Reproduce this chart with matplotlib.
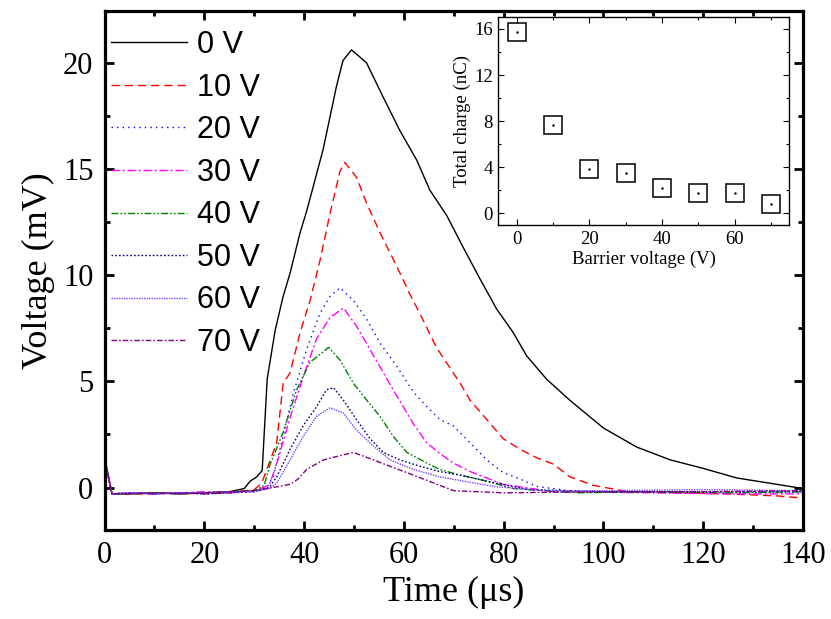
"""
Transient voltage signals for different barrier voltages, with inset of total charge.
"""

import matplotlib.pyplot as plt

SERIF = ["Liberation Serif", "DejaVu Serif"]
SANS = ["Liberation Sans", "DejaVu Sans"]

# Waveforms: time (us) and voltage (mV)
t_0v = [0, 0.3, 1.5, 5, 10, 15, 20, 25, 28, 29.2, 30.5, 31.6, 32.6, 34.2, 35.8, 37.2, 39.2,
        40.5, 43.8, 46.5, 47.8, 49.5, 52.5, 55.8, 59.2, 62.6, 65.2, 68.6, 71.9, 75.3, 78.6,
        81.9, 84.6, 88.6, 93.3, 100, 106.7, 113.4, 120, 126.7, 133.4, 140]
v_0v = [0.3, 1.1, -0.3, -0.3, -0.25, -0.3, -0.25, -0.2, -0.05, 0.3, 0.5, 0.8, 5.1, 7.4, 9.0, 10.1, 12.0,
        13.0, 15.9, 18.9, 20.1, 20.6, 20.0, 18.4, 16.8, 15.4, 14.0, 12.8, 11.3, 9.8, 8.4,
        7.3, 6.2, 5.1, 4.1, 2.8, 1.9, 1.3, 0.9, 0.45, 0.2, -0.05]

t_10v = [0, 0.3, 1.5, 5, 10, 15, 20, 25, 30, 31.5, 34.5, 35.8, 37.2, 39.2, 41.2, 43.2, 45.2,
         47.2, 48.2, 50.5, 52.5, 55.2, 58.6, 61.2, 63.6, 66.5, 71.3, 73.3, 76.6, 79.9, 83.3,
         86.6, 90, 93.3, 98, 105, 115, 125, 135, 140]
v_10v = [0.3, 1.0, -0.3, -0.3, -0.3, -0.25, -0.3, -0.25, -0.1, 0.2, 2.1, 4.9, 5.4, 7.3, 8.8, 10.7, 12.9,
         14.9, 15.3, 14.6, 13.4, 12.0, 10.4, 9.1, 8.0, 6.6, 4.9, 4.1, 3.2, 2.3, 1.8,
         1.4, 1.1, 0.5, 0.1, -0.2, -0.25, -0.3, -0.4, -0.5]

t_20v = [0, 0.3, 1.5, 5, 10, 15, 20, 25, 30, 32.5, 33.8, 35.8, 37.8, 40.5, 43.2, 45.2, 47.2,
         49.9, 52.6, 55.2, 58.6, 61.9, 64.2, 67.2, 69.9, 73.3, 76.6, 79.9, 83.3, 86.6, 95,
         110, 125, 140]
v_20v = [0.3, 1.0, -0.3, -0.25, -0.3, -0.25, -0.3, -0.25, -0.15, 0.0, 0.5, 2.4, 4.4, 6.5, 8.2, 9.0, 9.4,
         8.8, 7.9, 6.8, 5.7, 4.5, 3.9, 3.2, 2.9, 2.1, 1.3, 0.7, 0.4, 0.05, -0.2,
         -0.2, -0.2, -0.2]

t_30v = [0, 0.3, 1.5, 5, 10, 15, 20, 25, 30, 33, 34.5, 37.2, 39.8, 42.5, 45.2, 47.9, 50.5,
         53.2, 55.9, 58.6, 61.9, 64.6, 67.2, 69.9, 73.3, 76.6, 79.9, 90, 110, 125, 140]
v_30v = [0.3, 1.0, -0.3, -0.25, -0.3, -0.25, -0.2, -0.25, -0.15, 0.1, 1.1, 3.3, 5.2, 7.0, 8.0, 8.45, 7.6,
         6.5, 5.4, 4.3, 3.0, 2.1, 1.6, 1.15, 0.75, 0.45, 0.15, -0.2, -0.25, -0.3, -0.3]

t_40v = [0, 0.3, 1.5, 5, 10, 15, 20, 25, 30, 32, 33.2, 35.8, 38.5, 41.2, 43.9, 44.9, 47.2,
         49.9, 52.6, 55.2, 57.9, 60.6, 64.6, 67.2, 71, 76.6, 82, 95, 110, 125, 140]
v_40v = [0.3, 1.0, -0.3, -0.3, -0.25, -0.3, -0.25, -0.2, -0.15, 0.1, 1.1, 2.6, 4.6, 5.9, 6.4, 6.6, 6.0,
         4.9, 4.1, 3.35, 2.4, 1.65, 1.15, 0.85, 0.6, 0.3, -0.05, -0.25, -0.2, -0.25, -0.2]

t_50v = [0, 0.3, 1.5, 5, 10, 15, 20, 25, 30, 33, 34.5, 37.2, 39.8, 42.5, 44.5, 45.9, 47.9,
         50.5, 53.2, 55.9, 59.2, 63.2, 67.2, 72, 76.6, 85, 100, 120, 140]
v_50v = [0.3, 1.0, -0.3, -0.25, -0.3, -0.25, -0.3, -0.25, -0.2, 0.0, 0.5, 1.8, 2.9, 3.8, 4.6, 4.7, 4.1,
         3.2, 2.3, 1.65, 1.3, 1.0, 0.75, 0.55, 0.3, -0.1, -0.2, -0.2, -0.2]

t_60v = [0, 0.3, 1.5, 5, 10, 15, 20, 25, 30, 33, 34.5, 37.2, 39.8, 42.5, 45.2, 47.9, 50.5,
         53.9, 57.2, 61.9, 67.2, 72, 78, 88, 100, 120, 140]
v_60v = [0.3, 1.0, -0.3, -0.25, -0.3, -0.25, -0.25, -0.2, -0.2, -0.05, 0.2, 1.3, 2.4, 3.35, 3.75, 3.5, 2.7,
         1.95, 1.3, 0.85, 0.5, 0.3, 0.05, -0.15, -0.15, -0.1, -0.15]

t_70v = [0, 0.3, 1.5, 5, 10, 15, 20, 25, 30, 33.8, 37.2, 38.8, 40.5, 43.9, 47.2, 49.9, 53.9,
         57.2, 60.6, 65.9, 70, 80, 100, 120, 140]
v_70v = [0.3, 1.0, -0.3, -0.3, -0.25, -0.3, -0.25, -0.2, -0.15, 0.0, 0.15, 0.4, 0.85, 1.3, 1.5, 1.65, 1.3,
         1.0, 0.7, 0.22, -0.15, -0.25, -0.2, -0.2, -0.15]

labels = ["0 V", "10 V", "20 V", "30 V", "40 V", "50 V", "60 V", "70 V"]

# Inset: total charge vs barrier voltage
barrier_v = [0, 10, 20, 30, 40, 50, 60, 70]
charge_nc = [15.74, 7.68, 3.83, 3.48, 2.17, 1.80, 1.80, 0.78]

STILER = [
    dict(color="black", linestyle="-"),
    dict(color="#FF0000", linestyle=(0, (6, 3.5))),
    dict(color="#0000FF", linestyle=(0, (1, 3))),
    dict(color="#FF00FF", linestyle=(0, (6, 2, 1.5, 2))),
    dict(color="#008000", linestyle=(0, (5, 1.5, 1.2, 1.5, 1.2, 1.5))),
    dict(color="#000080", linestyle=(0, (1.2, 1.5))),
    dict(color="#8040FF", linestyle=(0, (1, 0.8))),
    dict(color="#800080", linestyle=(0, (4, 1.5, 1.2, 1.5))),
]


def main():
    fig = plt.figure(figsize=(8.31, 6.19), dpi=100)
    ax = fig.add_axes([0.1258, 0.1438, 0.8405, 0.8384])

    serier = [(t_0v, v_0v), (t_10v, v_10v), (t_20v, v_20v), (t_30v, v_30v),
              (t_40v, v_40v), (t_50v, v_50v), (t_60v, v_60v), (t_70v, v_70v)]
    for (t, v), lab, stil in zip(serier, labels, STILER):
        ax.plot(t, v, linewidth=1.0, label=lab, **stil)

    ax.set_xlim(0, 140)
    ax.set_ylim(-2, 22.43)
    ax.set_xticks(range(0, 141, 20))
    ax.set_xticks(range(10, 141, 20), minor=True)
    ax.set_yticks([0, 5, 10, 15, 20])
    ax.set_yticks([2.5, 7.5, 12.5, 17.5], minor=True)
    ax.tick_params(which="both", direction="in", top=True, right=True, width=2.0)
    ax.tick_params(which="major", length=6.5, labelsize=22, pad=8)
    ax.tick_params(which="minor", length=3.5)
    for lab in ax.get_xticklabels() + ax.get_yticklabels():
        lab.set_family(SERIF)
    for sp in ax.spines.values():
        sp.set_linewidth(2.3)

    ax.set_xlabel("Time (μs)", fontsize=26, family=SERIF, labelpad=4)
    ax.set_ylabel("Voltage (mV)", fontsize=26, family=SERIF, labelpad=6)

    leg = ax.legend(loc="upper left", bbox_to_anchor=(0.0, 0.975), frameon=False,
                    prop={"family": SANS, "size": 22},
                    handlelength=2.5, handletextpad=0.33, labelspacing=0.41,
                    borderaxespad=0.0, borderpad=0.2)
    for h in leg.get_lines():
        h.set_linewidth(1.0)

    # Inset
    ins = fig.add_axes([0.5997, 0.6365, 0.3502, 0.3355])
    ins.plot(barrier_v, charge_nc, linestyle="none", marker="s", markersize=13,
             markerfacecolor="none", markeredgecolor="black", markeredgewidth=1.1)
    ins.plot(barrier_v, charge_nc, linestyle="none", marker=".", markersize=1.5, color="black")
    ins.set_xlim(-5, 75)
    ins.set_ylim(-1, 17)
    ins.set_xticks([0, 20, 40, 60])
    ins.set_xticks([10, 30, 50, 70], minor=True)
    ins.set_yticks([0, 4, 8, 12, 16])
    ins.set_yticks([2, 6, 10, 14], minor=True)
    ins.tick_params(which="both", direction="in", top=True, right=True, width=0.8)
    ins.tick_params(which="major", length=4, labelsize=13.5, pad=4)
    ins.tick_params(which="minor", length=2.5)
    for lab in ins.get_xticklabels() + ins.get_yticklabels():
        lab.set_family(SERIF)
    for sp in ins.spines.values():
        sp.set_linewidth(1.0)
    ins.set_xlabel("Barrier voltage (V)", fontsize=13.5, family=SERIF, labelpad=2)
    ins.set_ylabel("Total charge (nC)", fontsize=13.5, family=SERIF, labelpad=2)

    fig.savefig("out.png", dpi=100)
    plt.close(fig)


if __name__ == "__main__":
    main()
